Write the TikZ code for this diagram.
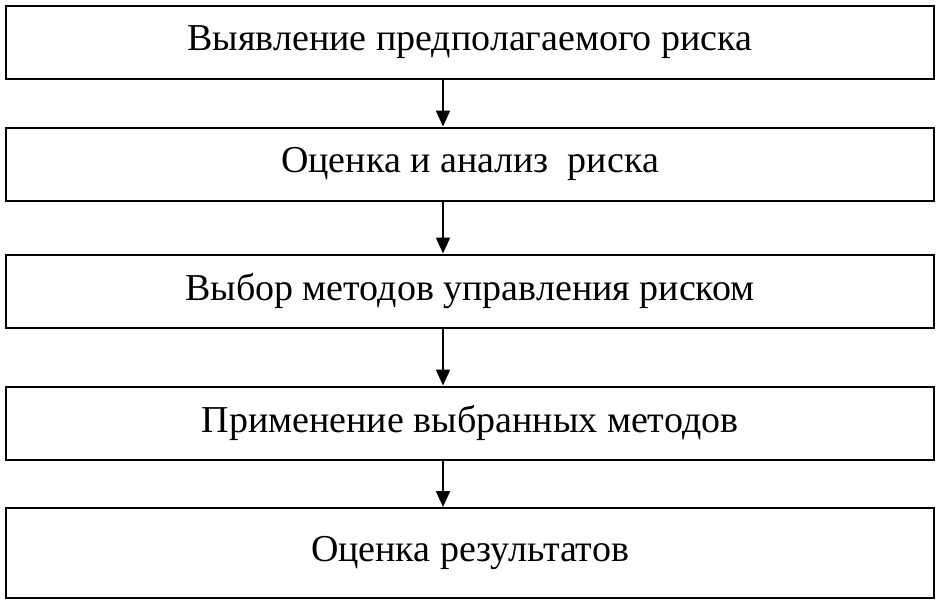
\documentclass[tikz,border=0pt]{standalone}
\usepackage{fontspec}
\setmainfont{Liberation Serif}
\usetikzlibrary{arrows.meta,positioning}

\begin{document}
\begin{tikzpicture}[
    x=1pt, y=-1pt,
    stage/.style={rectangle, draw, line width=2pt, minimum width=928pt, minimum height=73pt, align=center, font=\fontsize{38}{44}\selectfont},
    arrow/.style={line width=2pt,-{Triangle[length=16pt,width=14pt]}}
]
    \useasboundingbox (0,0) rectangle (940,606);
    \node[stage] (ident) at (470,42) {Выявление предполагаемого риска};
    \node[stage] (analysis) at (470,164) {Оценка и анализ\ \ риска};
    \node[stage] (choice) at (470,291) {Выбор методов управления риском};
    \node[stage] (apply) at (470,423) {Применение выбранных методов};
    \node[stage, minimum height=90pt] (result) at (470,553) {Оценка результатов};

    \draw[arrow] (ident.south -| 443,0) -- (analysis.north -| 443,0);
    \draw[arrow] (analysis.south -| 443,0) -- (choice.north -| 443,0);
    \draw[arrow] (choice.south -| 443,0) -- (apply.north -| 443,0);
    \draw[arrow] (apply.south -| 443,0) -- (result.north -| 443,0);
\end{tikzpicture}
\end{document}
